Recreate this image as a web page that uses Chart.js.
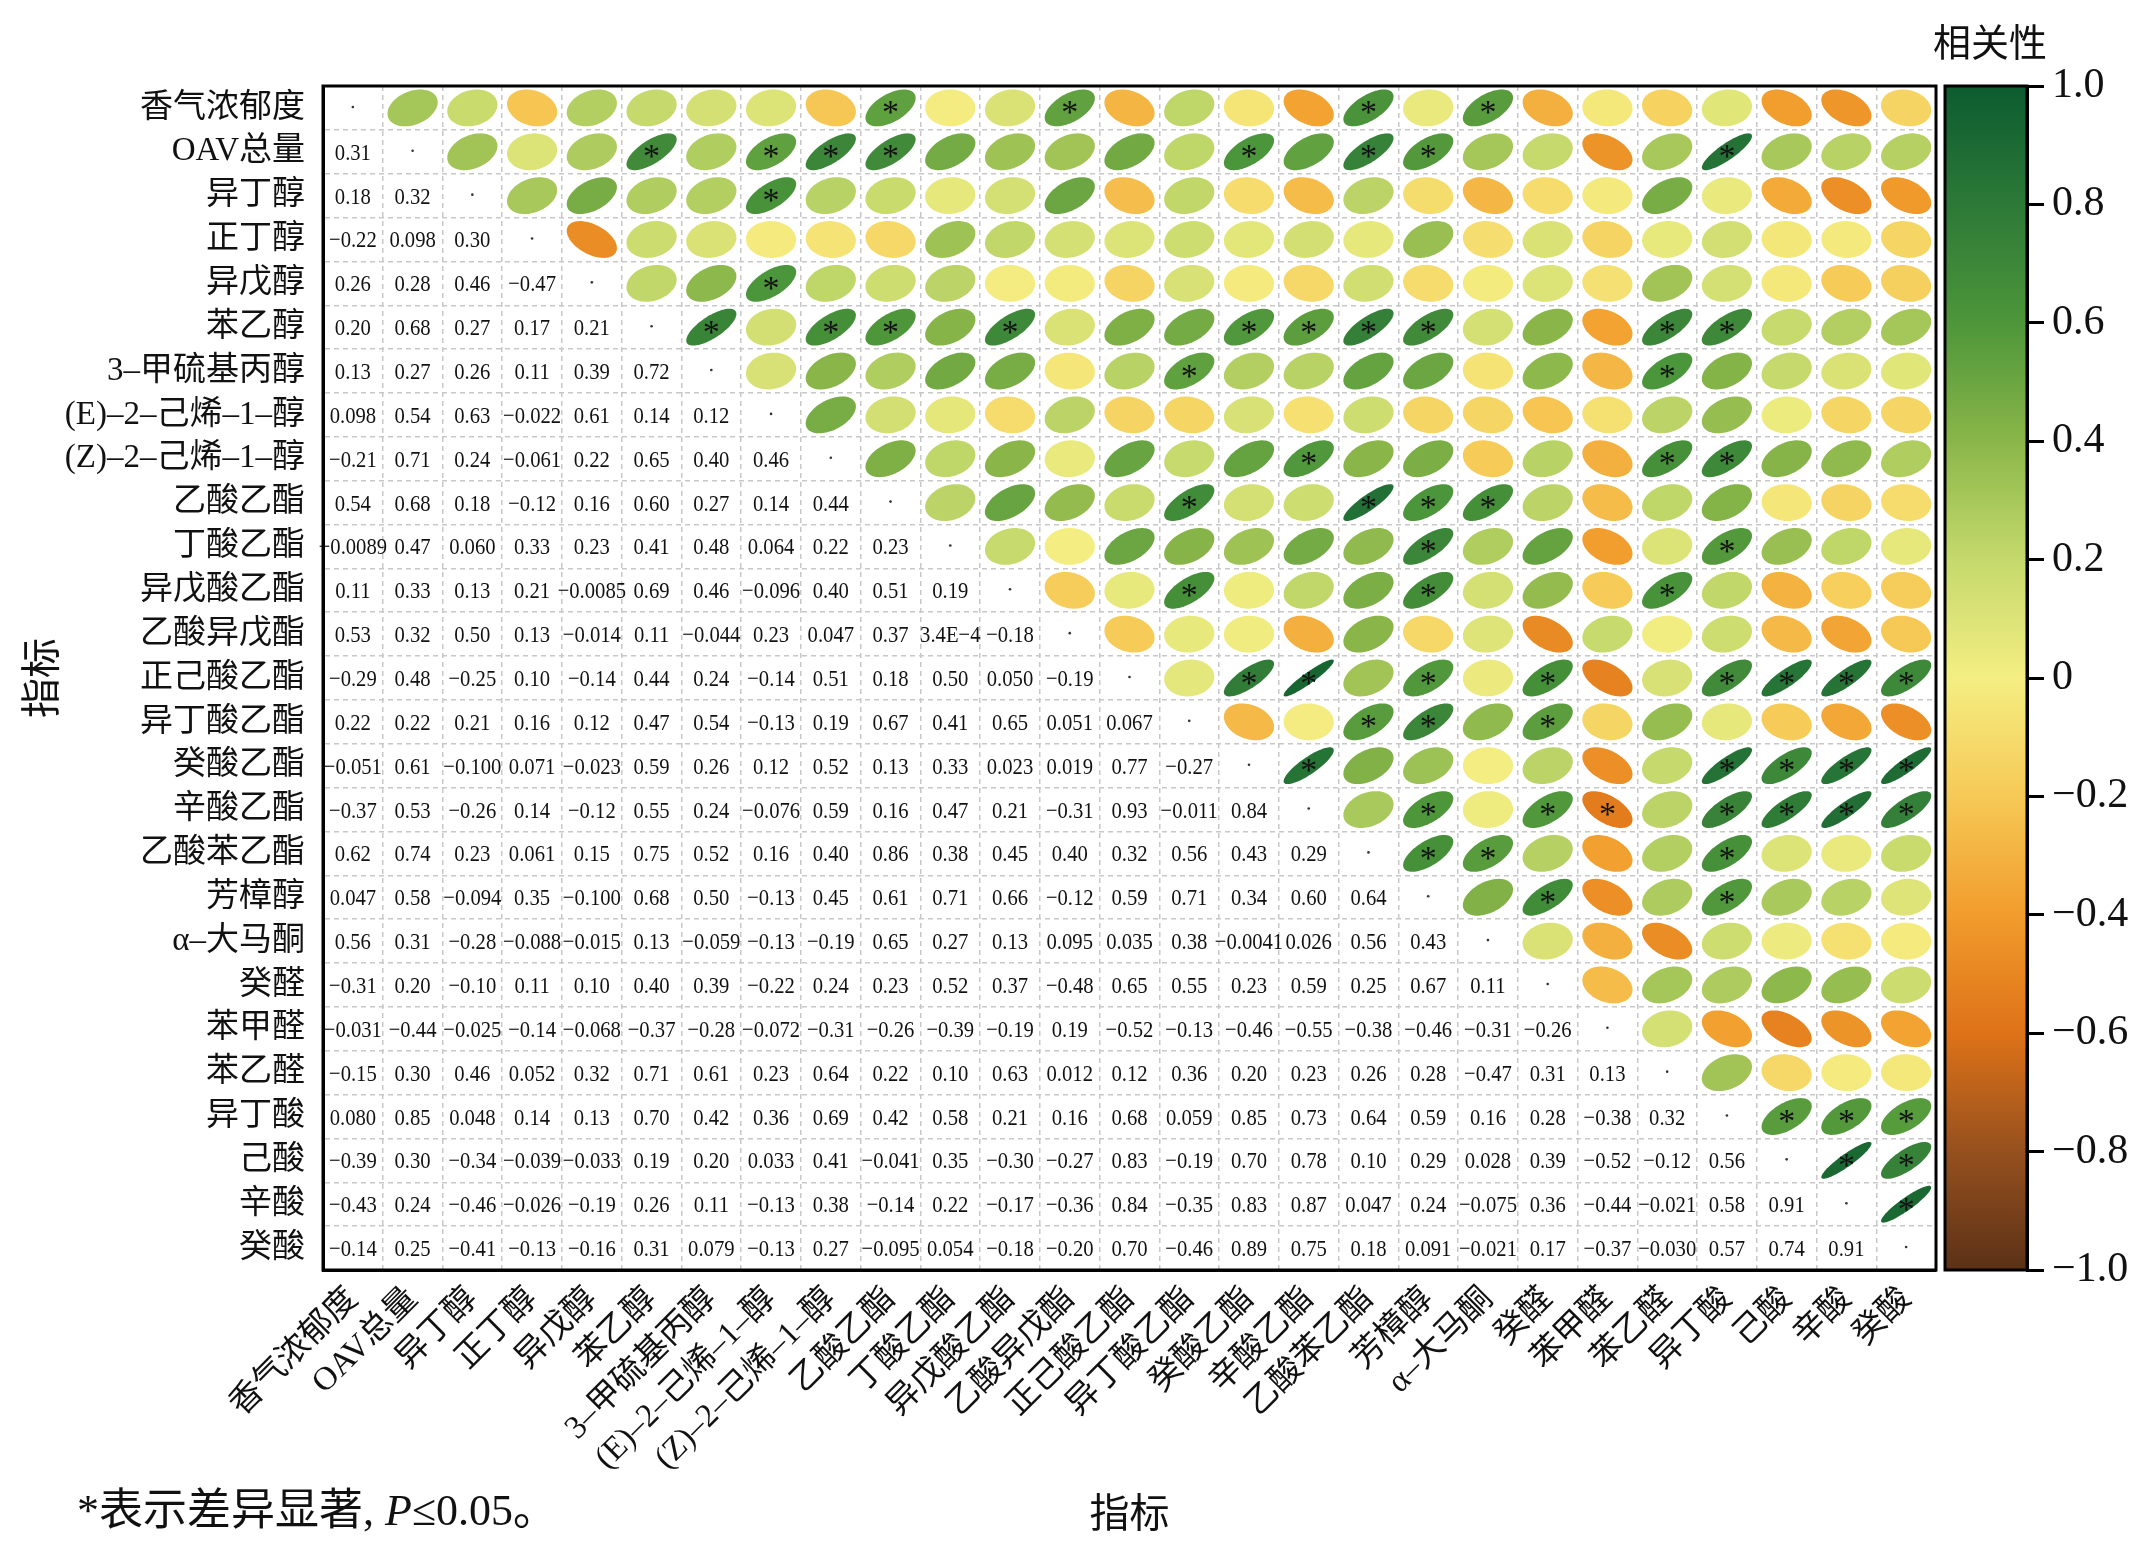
<!DOCTYPE html>
<html>
<head>
<meta charset="utf-8">
<script src="https://cdn.jsdelivr.net/npm/chart.js@4.4.0/dist/chart.umd.min.js"></script>
<style>
html,body{margin:0;padding:0;background:#fff;}
#wrap{width:2130px;height:1542px;position:relative;}
</style>
</head>
<body>
<div id="wrap"><canvas id="c"></canvas></div>
<script>
// ---------------- data ----------------
const indicators = ["香气浓郁度","OAV总量","异丁醇","正丁醇","异戊醇","苯乙醇","3–甲硫基丙醇",
  "(E)–2–己烯–1–醇","(Z)–2–己烯–1–醇","乙酸乙酯","丁酸乙酯","异戊酸乙酯","乙酸异戊酯",
  "正己酸乙酯","异丁酸乙酯","癸酸乙酯","辛酸乙酯","乙酸苯乙酯","芳樟醇","α–大马酮",
  "癸醛","苯甲醛","苯乙醛","异丁酸","己酸","辛酸","癸酸"];

// lower-triangle correlation coefficients, row i holds columns 0..i-1 (as printed)
const corrRows = [
  "",
  "0.31",
  "0.18 0.32",
  "-0.22 0.098 0.30",
  "0.26 0.28 0.46 -0.47",
  "0.20 0.68 0.27 0.17 0.21",
  "0.13 0.27 0.26 0.11 0.39 0.72",
  "0.098 0.54 0.63 -0.022 0.61 0.14 0.12",
  "-0.21 0.71 0.24 -0.061 0.22 0.65 0.40 0.46",
  "0.54 0.68 0.18 -0.12 0.16 0.60 0.27 0.14 0.44",
  "-0.0089 0.47 0.060 0.33 0.23 0.41 0.48 0.064 0.22 0.23",
  "0.11 0.33 0.13 0.21 -0.0085 0.69 0.46 -0.096 0.40 0.51 0.19",
  "0.53 0.32 0.50 0.13 -0.014 0.11 -0.044 0.23 0.047 0.37 3.4E-4 -0.18",
  "-0.29 0.48 -0.25 0.10 -0.14 0.44 0.24 -0.14 0.51 0.18 0.50 0.050 -0.19",
  "0.22 0.22 0.21 0.16 0.12 0.47 0.54 -0.13 0.19 0.67 0.41 0.65 0.051 0.067",
  "-0.051 0.61 -0.100 0.071 -0.023 0.59 0.26 0.12 0.52 0.13 0.33 0.023 0.019 0.77 -0.27",
  "-0.37 0.53 -0.26 0.14 -0.12 0.55 0.24 -0.076 0.59 0.16 0.47 0.21 -0.31 0.93 -0.011 0.84",
  "0.62 0.74 0.23 0.061 0.15 0.75 0.52 0.16 0.40 0.86 0.38 0.45 0.40 0.32 0.56 0.43 0.29",
  "0.047 0.58 -0.094 0.35 -0.100 0.68 0.50 -0.13 0.45 0.61 0.71 0.66 -0.12 0.59 0.71 0.34 0.60 0.64",
  "0.56 0.31 -0.28 -0.088 -0.015 0.13 -0.059 -0.13 -0.19 0.65 0.27 0.13 0.095 0.035 0.38 -0.0041 0.026 0.56 0.43",
  "-0.31 0.20 -0.10 0.11 0.10 0.40 0.39 -0.22 0.24 0.23 0.52 0.37 -0.48 0.65 0.55 0.23 0.59 0.25 0.67 0.11",
  "-0.031 -0.44 -0.025 -0.14 -0.068 -0.37 -0.28 -0.072 -0.31 -0.26 -0.39 -0.19 0.19 -0.52 -0.13 -0.46 -0.55 -0.38 -0.46 -0.31 -0.26",
  "-0.15 0.30 0.46 0.052 0.32 0.71 0.61 0.23 0.64 0.22 0.10 0.63 0.012 0.12 0.36 0.20 0.23 0.26 0.28 -0.47 0.31 0.13",
  "0.080 0.85 0.048 0.14 0.13 0.70 0.42 0.36 0.69 0.42 0.58 0.21 0.16 0.68 0.059 0.85 0.73 0.64 0.59 0.16 0.28 -0.38 0.32",
  "-0.39 0.30 -0.34 -0.039 -0.033 0.19 0.20 0.033 0.41 -0.041 0.35 -0.30 -0.27 0.83 -0.19 0.70 0.78 0.10 0.29 0.028 0.39 -0.52 -0.12 0.56",
  "-0.43 0.24 -0.46 -0.026 -0.19 0.26 0.11 -0.13 0.38 -0.14 0.22 -0.17 -0.36 0.84 -0.35 0.83 0.87 0.047 0.24 -0.075 0.36 -0.44 -0.021 0.58 0.91",
  "-0.14 0.25 -0.41 -0.13 -0.16 0.31 0.079 -0.13 0.27 -0.095 0.054 -0.18 -0.20 0.70 -0.46 0.89 0.75 0.18 0.091 -0.021 0.17 -0.37 -0.030 0.57 0.74 0.91"
];

// significant pairs (P<=0.05): for row i, the columns j>i marked with *
const sigCols = [
  [9,12,17,19],
  [5,7,8,9,15,17,18,23],
  [7],
  [],
  [7],
  [6,8,9,11,15,16,17,18,22,23],
  [14,22],
  [],
  [16,22,23],
  [14,17,18,19],
  [18,23],
  [14,18,22],
  [],
  [15,16,18,20,23,24,25,26],
  [17,18,20],
  [16,23,24,25,26],
  [18,20,21,23,24,25,26],
  [18,19,23],
  [20,23],
  [], [], [], [],
  [24,25,26],
  [25,26],
  [26],
  []
];

const cbTickValues = [-1.0,-0.8,-0.6,-0.4,-0.2,0,0.2,0.4,0.6,0.8,1.0];
const cbTickLabels = ["−1.0","−0.8","−0.6","−0.4","−0.2","0","0.2","0.4","0.6","0.8","1.0"];

// ---------------- styling ----------------
const FONT = "'Liberation Serif', 'Noto Sans CJK SC', serif";
const CJK = "'Noto Sans CJK SC', 'Liberation Serif', sans-serif";
const colorStops = [
  [-1.0,[91,49,23]],
  [-0.8,[150,80,30]],
  [-0.6,[222,114,24]],
  [-0.4,[241,156,44]],
  [-0.2,[246,201,86]],
  [0.0,[244,238,130]],
  [0.2,[197,217,108]],
  [0.4,[138,182,73]],
  [0.6,[77,150,58]],
  [0.8,[44,121,55]],
  [1.0,[12,92,48]]
];
function colorFor(v){
  v = Math.max(-1, Math.min(1, v));
  for (let k=0;k<colorStops.length-1;k++){
    const [a,ca]=colorStops[k],[b,cb]=colorStops[k+1];
    if (v>=a && v<=b){
      const f=(v-a)/(b-a);
      const c=ca.map((x,n)=>Math.round(x+(cb[n]-x)*f));
      return `rgb(${c[0]},${c[1]},${c[2]})`;
    }
  }
  return 'rgb(0,0,0)';
}

// ---------------- matrix ----------------
const N = indicators.length;
const txt = corrRows.map(r => r.trim()==="" ? [] : r.trim().split(/\s+/));
const R = Array.from({length:N},()=>new Array(N).fill(1));
for (let i=0;i<N;i++) for (let j=0;j<i;j++){ const v=parseFloat(txt[i][j]); R[i][j]=v; R[j][i]=v; }

const upperPts=[], lowerPts=[], diagPts=[];
for (let i=0;i<N;i++){
  for (let j=0;j<N;j++){
    if (j>i) upperPts.push({x:indicators[j], y:indicators[i], v:R[i][j], sig: sigCols[i].includes(j)});
    else if (j<i) lowerPts.push({x:indicators[j], y:indicators[i], v:R[i][j], t: txt[i][j].replace(/-/g,'−')});
    else diagPts.push({x:indicators[j], y:indicators[i]});
  }
}

// ---------------- plugin ----------------
const corrPlugin = {
  id:'corr',
  beforeDraw(chart){
    const {ctx, chartArea, scales} = chart;
    ctx.save();
    ctx.fillStyle='#fff';
    ctx.fillRect(0,0,chart.width,chart.height);
    // colour bar
    const sp=scales.sp, cb=scales.cb;
    const x0 = sp.left + 9, x1 = cb.left;
    const top = chartArea.top, bot = chartArea.bottom;
    const g = ctx.createLinearGradient(0, top, 0, bot);
    colorStops.forEach(([v,c])=>{ g.addColorStop((1-v)/2, `rgb(${c[0]},${c[1]},${c[2]})`); });
    ctx.fillStyle=g;
    ctx.fillRect(x0, top, x1-x0, bot-top);
    ctx.lineWidth=3; ctx.strokeStyle='#000';
    ctx.strokeRect(x0, top, x1-x0, bot-top);
    ctx.restore();
  },
  afterDatasetsDraw(chart){
    const {ctx, chartArea} = chart;
    const cw=(chartArea.right-chartArea.left)/N, ch=(chartArea.bottom-chartArea.top)/N;
    ctx.save();
    // upper: ellipses
    const mu=chart.getDatasetMeta(0);
    const du=chart.data.datasets[0].data;
    ctx.font = `34px ${FONT}`;
    const sm = ctx.measureText('*');
    const starOff = (sm.actualBoundingBoxAscent - sm.actualBoundingBoxDescent)/2;
    mu.data.forEach((el,k)=>{
      const p=du[k];
      const d=Math.acos(Math.max(-1,Math.min(1,p.v)));
      const a=0.42*cw, b=0.42*ch;
      ctx.beginPath();
      for (let s=0;s<=90;s++){
        const t=s/90*2*Math.PI;
        const px=el.x+a*Math.cos(t+d/2), py=el.y-b*Math.cos(t-d/2);
        if (s===0) ctx.moveTo(px,py); else ctx.lineTo(px,py);
      }
      ctx.closePath();
      ctx.fillStyle=colorFor(p.v);
      ctx.fill();
      if (p.sig){
        ctx.fillStyle='#111';
        ctx.textAlign='center'; ctx.textBaseline='alphabetic';
        ctx.fillText('*', el.x, el.y+starOff);
      }
    });
    // lower: numbers
    const ml=chart.getDatasetMeta(1);
    const dl=chart.data.datasets[1].data;
    ctx.font = `24px ${FONT}`;
    ctx.fillStyle='#111'; ctx.textAlign='center'; ctx.textBaseline='alphabetic';
    ml.data.forEach((el,k)=>{
      ctx.save();
      ctx.translate(el.x, el.y+8);
      ctx.scale(0.86,1);
      ctx.fillText(dl[k].t, 0, 0);
      ctx.restore();
    });
    // diagonal dots
    const md=chart.getDatasetMeta(2);
    md.data.forEach(el=>{
      ctx.beginPath(); ctx.arc(el.x, el.y-1, 1.3, 0, 2*Math.PI); ctx.fillStyle='#333'; ctx.fill();
    });
    // frame
    ctx.lineWidth=3; ctx.strokeStyle='#000';
    ctx.strokeRect(chartArea.left, chartArea.top, chartArea.right-chartArea.left, chartArea.bottom-chartArea.top);
    ctx.restore();
  },
  afterDraw(chart){
    const {ctx, scales} = chart;
    ctx.save();
    // colour bar title
    const sp=scales.sp, cb=scales.cb;
    ctx.fillStyle='#111';
    ctx.font=`38px ${CJK}`;
    ctx.textAlign='center'; ctx.textBaseline='middle';
    ctx.fillText('相关性', (sp.left+9+cb.left)/2 + 4, 42);
    // footnote
    ctx.textAlign='left';
    let x=77; const y=1513;
    const segs=[['*表示差异显著, ','normal'],['P','italic'],['≤0.05。','normal']];
    segs.forEach(([s,st])=>{
      ctx.font=`${st} 44px ${FONT}`;
      ctx.fillText(s,x,y);
      x+=ctx.measureText(s).width;
    });
    ctx.restore();
  }
};

// ---------------- chart ----------------
new Chart(document.getElementById('c'), {
  type:'scatter',
  data:{ datasets:[
    {label:'upper', data:upperPts, pointRadius:0, pointHoverRadius:0},
    {label:'lower', data:lowerPts, pointRadius:0, pointHoverRadius:0},
    {label:'diag', data:diagPts, pointRadius:0, pointHoverRadius:0}
  ]},
  options:{
    responsive:true, maintainAspectRatio:false, animation:false, devicePixelRatio:1,
    events:[],
    layout:{padding:{top:86,left:0,right:0,bottom:0}},
    plugins:{legend:{display:false}, tooltip:{enabled:false}},
    scales:{
      x:{type:'category', labels:indicators, position:'bottom', offset:true,
        grid:{offset:true, color:'#c8c8c8', lineWidth:1.5, drawTicks:false},
        border:{display:true, color:'#000', width:3, dash:[5,4]},
        ticks:{autoSkip:false, minRotation:45, maxRotation:45, padding:10, color:'#111', font:{family:FONT, size:33}},
        title:{display:true, text:'指标', color:'#111', font:{family:CJK, size:40}, padding:{top:0,bottom:6}},
        afterFit(s){ s.height=272; }
      },
      y:{type:'category', labels:indicators, position:'left', offset:true,
        grid:{offset:true, color:'#c8c8c8', lineWidth:1.5, drawTicks:false},
        border:{display:true, color:'#000', width:3, dash:[5,4]},
        ticks:{autoSkip:false, padding:18, color:'#111', font:{family:FONT, size:33}},
        title:{display:true, text:'指标', color:'#111', font:{family:CJK, size:40}, padding:{top:16,bottom:0}},
        afterFit(s){ s.width=323; }
      },
      sp:{type:'linear', position:'right', weight:0, min:0, max:1, display:true,
        ticks:{display:false}, grid:{display:false, drawTicks:false}, border:{display:false},
        afterFit(s){ s.width=91; }
      },
      cb:{type:'linear', position:'right', weight:10, min:-1, max:1, display:true,
        afterBuildTicks(s){ s.ticks = cbTickValues.map(v=>({value:v})); },
        ticks:{padding:8, color:'#111', font:{family:FONT, size:42},
          callback:(v,i)=>cbTickLabels[i]},
        grid:{drawOnChartArea:false, drawTicks:true, tickLength:17, lineWidth:3, color:'#000'},
        border:{display:true, color:'#000', width:3},
        afterFit(s){ s.width=103; }
      }
    }
  },
  plugins:[corrPlugin]
});
</script>
</body>
</html>
